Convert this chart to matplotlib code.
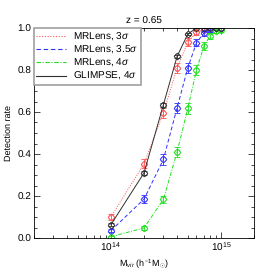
import numpy as np
import matplotlib
matplotlib.use('Agg')
import matplotlib.pyplot as plt
from matplotlib.lines import Line2D
from matplotlib.ticker import MultipleLocator, LogLocator, NullFormatter, FormatStrFormatter

plt.rcParams['font.family'] = ['Liberation Sans', 'DejaVu Sans']
plt.rcParams['mathtext.fontset'] = 'custom'
plt.rcParams['mathtext.rm'] = 'Liberation Sans'
plt.rcParams['mathtext.it'] = 'Liberation Sans:italic'
plt.rcParams['text.hinting'] = 'no_hinting'
plt.rcParams['text.hinting_factor'] = 1

# cluster masses (h^-1 Msun)
mass = [1e14, 2e14, 3e14, 4e14, 5e14, 6e14, 7e14, 8e14, 9e14, 1e15]

rate_mr3 = [0.10, 0.353, 0.596, 0.81, 0.933, 0.98, 0.99, 1.0, 1.0, 1.0]
err_mr3 = [0.012, 0.022, 0.025, 0.022, 0.018, 0.012, 0.008, 0.004, 0.002, 0.0]
rate_mr35 = [0.035, 0.185, 0.374, 0.62, 0.81, 0.93, 0.975, 0.99, 1.0, 1.0]
err_mr35 = [0.008, 0.018, 0.024, 0.025, 0.022, 0.018, 0.012, 0.008, 0.004, 0.002]
rate_mr4 = [0.006, 0.048, 0.184, 0.41, 0.617, 0.80, 0.913, 0.963, 0.984, 0.99]
err_mr4 = [0.004, 0.008, 0.016, 0.022, 0.025, 0.022, 0.018, 0.014, 0.01, 0.008]
rate_gl4 = [0.063, 0.31, 0.634, 0.865, 0.971, 1.0, 1.0, 1.0, 1.0, 1.0]
err_gl4 = [0.008, 0.01, 0.01, 0.008, 0.005, 0.0, 0.0, 0.0, 0.0, 0.0]

labels = ['MRLens, 3$\\sigma$', 'MRLens, 3.5$\\sigma$', 'MRLens, 4$\\sigma$', 'GLIMPSE, 4$\\sigma$']

fig = plt.figure(figsize=(2.74, 2.74), dpi=100)
ax = fig.add_axes([34 / 274, 1 - 238 / 274, 220 / 274, 210 / 274])

series = [
    (rate_mr3, err_mr3, '#ff5050', (0, (1, 1.5))),
    (rate_mr35, err_mr35, '#3030ff', (0, (4, 2.5))),
    (rate_mr4, err_mr4, '#20e020', (0, (4, 1.5, 1, 1.5))),
    (rate_gl4, err_gl4, '#303030', '-'),
]

handles = []
for (rate, err, col, ls), lab in zip(series, labels):
    ax.plot(mass, rate, color=col, ls=ls, lw=0.7)
    ax.errorbar(mass, rate, yerr=err, fmt='none', ecolor=col, elinewidth=0.6,
                capsize=2, capthick=0.6)
    ax.plot(mass, rate, ls='none', marker='o', ms=4, mfc='none', mec=col, mew=0.5)
    ax.plot(mass, rate, ls='none', marker='D', ms=3.5, mfc='none', mec=col, mew=0.5)
    handles.append(Line2D([], [], color=col, ls=ls, lw=0.8, label=lab))

ax.set_xscale('log')
ax.set_xlim(2e13, 2e15)
ax.set_ylim(0, 1.0)
ax.yaxis.set_major_locator(MultipleLocator(0.2))
ax.yaxis.set_minor_locator(MultipleLocator(0.05))
ax.yaxis.set_major_formatter(FormatStrFormatter('%.1f'))
ax.xaxis.set_minor_locator(LogLocator(base=10, subs=np.arange(2, 10)))
ax.xaxis.set_minor_formatter(NullFormatter())
ax.tick_params(which='both', direction='in', top=True, right=True, labelsize=7, pad=2)
ax.tick_params(which='major', length=4, width=0.5)
ax.tick_params(which='minor', length=2, width=0.5)
for s in ax.spines.values():
    s.set_linewidth(0.6)

ax.set_title('z = 0.65', fontsize=7.5, pad=3)
ax.set_ylabel('Detection rate', fontsize=6.5, labelpad=3)
ax.set_xlabel('M$_{vir}$ (h$^{-1}$M$_{\\odot}$)', fontsize=6.5, labelpad=2)

leg = ax.legend(handles=handles, loc='upper left', fontsize=7, frameon=True, fancybox=False,
                borderaxespad=0, handlelength=3, borderpad=0.25, labelspacing=0.1,
                handletextpad=0.8, framealpha=1)
leg.get_frame().set_edgecolor('#a0a0a0')
leg.get_frame().set_linewidth(1.2)

fig.savefig('out.png', dpi=100)
